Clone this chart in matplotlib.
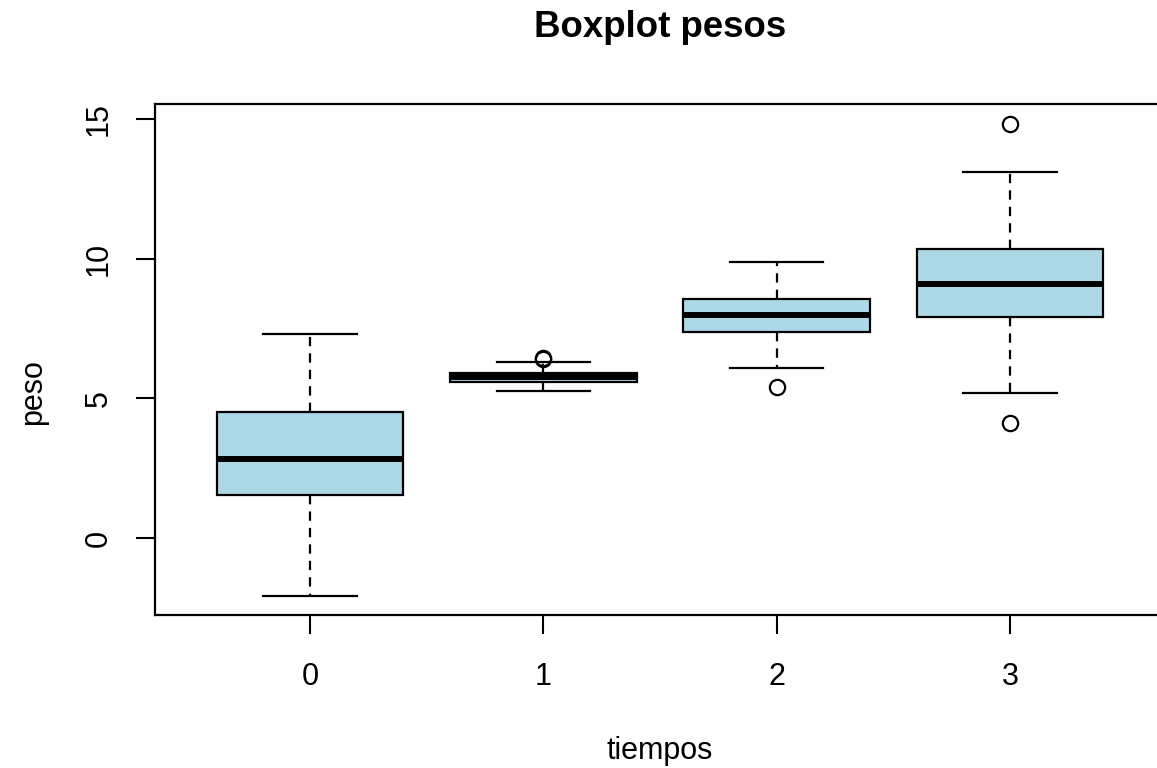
import matplotlib
matplotlib.use("Agg")
import matplotlib.pyplot as plt

plt.rcParams['font.family'] = ['Liberation Sans', 'DejaVu Sans']

# five-number summaries of peso for each tiempo
tiempos = [0, 1, 2, 3]
whislo = [-2.08, 5.26, 6.10, 5.18]
q1 = [1.54, 5.60, 7.38, 7.92]
med = [2.82, 5.75, 7.98, 9.10]
q3 = [4.51, 5.90, 8.55, 10.36]
whishi = [7.30, 6.30, 9.87, 13.09]
fliers = [[], [6.40, 6.46], [5.40], [14.82, 4.13]]

stats = []
for i in range(len(tiempos)):
    stats.append({'whislo': whislo[i], 'q1': q1[i], 'med': med[i], 'q3': q3[i],
                  'whishi': whishi[i], 'fliers': fliers[i]})

fig = plt.figure(figsize=(11.57, 7.68), dpi=100)
ax = fig.add_axes([155 / 1157, 1 - 615 / 768, 1010 / 1157, 511 / 768])

ax.bxp(stats, positions=tiempos, widths=0.8, capwidths=0.4, patch_artist=True,
       boxprops=dict(facecolor='lightblue', edgecolor='black', linewidth=1.6),
       medianprops=dict(color='black', linewidth=4.3),
       whiskerprops=dict(color='black', linewidth=1.6, linestyle=(0, (4.2, 3.2))),
       capprops=dict(color='black', linewidth=1.6),
       flierprops=dict(marker='o', markerfacecolor='none', markeredgecolor='black',
                       markersize=11, markeredgewidth=1.6))

ax.set_xlim(-0.664, 3.664)
ax.set_ylim(-2.757, 15.54)
ax.set_xticks(tiempos)
ax.set_xticklabels([str(t) for t in tiempos])
ax.set_yticks([0, 5, 10, 15])
ax.set_yticklabels(['0', '5', '10', '15'], rotation=90, va='center')
ax.tick_params(axis='both', direction='out', length=13.7, width=1.5, labelsize=22)
ax.tick_params(axis='x', pad=20)
ax.tick_params(axis='y', pad=16)
for s in ax.spines.values():
    s.set_linewidth(1.6)

fig.text(660 / 1157, 1 - 37.3 / 768, 'Boxplot pesos', ha='center', va='baseline',
         fontsize=26.4, fontweight='bold')
fig.text(660 / 1157, 1 - 759 / 768, 'tiempos', ha='center', va='baseline', fontsize=22)
fig.text(33 / 1157, 1 - 359 / 768, 'peso', ha='right', va='center', rotation=90,
         fontsize=22, rotation_mode='anchor')

fig.savefig('out.png', dpi=100)
